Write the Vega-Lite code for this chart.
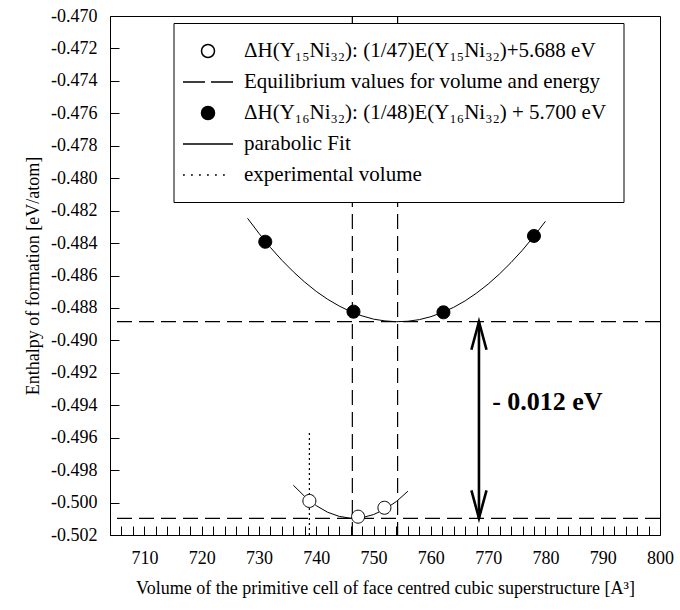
{
  "$schema": "https://vega.github.io/schema/vega-lite/v6.json",
  "width": 550,
  "height": 519,
  "autosize": {"type": "none"},
  "padding": {"left": 110, "top": 16, "right": 20, "bottom": 75},
  "background": "white",
  "config": {
    "view": {"stroke": "black", "strokeWidth": 1},
    "font": "Liberation Serif, Times New Roman, DejaVu Serif, serif"
  },
  "datasets": {
    "hlines": [{"E": -0.48885}, {"E": -0.50097}],
    "vlines": [{"V": 746.3}, {"V": 754.2}],
    "expvol": [{"V": 738.8, "E": -0.502, "E2": -0.4956}],
    "arrow": [{"V": 768.4, "E": -0.48885, "E2": -0.50097}],
    "arrowtop": [{"V": 768.4, "E": -0.48885}],
    "arrowbot": [{"V": 768.4, "E": -0.50097}],
    "label": [{"V": 770.7, "E": -0.4938, "t": "- 0.012 eV"}],
    "fit": [
      {"set": "Y16Ni32", "V": 728, "E": -0.48247},
      {"set": "Y16Ni32", "V": 730, "E": -0.48340},
      {"set": "Y16Ni32", "V": 732, "E": -0.48427},
      {"set": "Y16Ni32", "V": 734, "E": -0.48506},
      {"set": "Y16Ni32", "V": 736, "E": -0.48577},
      {"set": "Y16Ni32", "V": 738, "E": -0.48641},
      {"set": "Y16Ni32", "V": 740, "E": -0.48698},
      {"set": "Y16Ni32", "V": 742, "E": -0.48747},
      {"set": "Y16Ni32", "V": 744, "E": -0.48788},
      {"set": "Y16Ni32", "V": 746, "E": -0.48823},
      {"set": "Y16Ni32", "V": 748, "E": -0.48849},
      {"set": "Y16Ni32", "V": 750, "E": -0.48869},
      {"set": "Y16Ni32", "V": 752, "E": -0.48880},
      {"set": "Y16Ni32", "V": 754, "E": -0.48885},
      {"set": "Y16Ni32", "V": 756, "E": -0.48882},
      {"set": "Y16Ni32", "V": 758, "E": -0.48872},
      {"set": "Y16Ni32", "V": 760, "E": -0.48854},
      {"set": "Y16Ni32", "V": 762, "E": -0.48828},
      {"set": "Y16Ni32", "V": 764, "E": -0.48796},
      {"set": "Y16Ni32", "V": 766, "E": -0.48756},
      {"set": "Y16Ni32", "V": 768, "E": -0.48708},
      {"set": "Y16Ni32", "V": 770, "E": -0.48653},
      {"set": "Y16Ni32", "V": 772, "E": -0.48590},
      {"set": "Y16Ni32", "V": 774, "E": -0.48520},
      {"set": "Y16Ni32", "V": 776, "E": -0.48443},
      {"set": "Y16Ni32", "V": 778, "E": -0.48358},
      {"set": "Y16Ni32", "V": 780, "E": -0.48266},
      {"set": "Y15Ni32", "V": 736, "E": -0.49893},
      {"set": "Y15Ni32", "V": 738, "E": -0.49963},
      {"set": "Y15Ni32", "V": 740, "E": -0.50019},
      {"set": "Y15Ni32", "V": 742, "E": -0.50060},
      {"set": "Y15Ni32", "V": 744, "E": -0.50085},
      {"set": "Y15Ni32", "V": 746, "E": -0.50097},
      {"set": "Y15Ni32", "V": 748, "E": -0.50093},
      {"set": "Y15Ni32", "V": 750, "E": -0.50074},
      {"set": "Y15Ni32", "V": 752, "E": -0.50041},
      {"set": "Y15Ni32", "V": 754, "E": -0.49993},
      {"set": "Y15Ni32", "V": 756, "E": -0.49930}
    ],
    "points": [
      {"series": "ΔH(Y₁₅Ni₃₂): (1/47)E(Y₁₅Ni₃₂)+5.688 eV", "V": 738.8, "E": -0.49990},
      {"series": "ΔH(Y₁₅Ni₃₂): (1/47)E(Y₁₅Ni₃₂)+5.688 eV", "V": 747.3, "E": -0.50087},
      {"series": "ΔH(Y₁₅Ni₃₂): (1/47)E(Y₁₅Ni₃₂)+5.688 eV", "V": 751.9, "E": -0.50032},
      {"series": "ΔH(Y₁₆Ni₃₂): (1/48)E(Y₁₆Ni₃₂) + 5.700 eV", "V": 731.1, "E": -0.48392},
      {"series": "ΔH(Y₁₆Ni₃₂): (1/48)E(Y₁₆Ni₃₂) + 5.700 eV", "V": 746.5, "E": -0.48823},
      {"series": "ΔH(Y₁₆Ni₃₂): (1/48)E(Y₁₆Ni₃₂) + 5.700 eV", "V": 762.2, "E": -0.48827},
      {"series": "ΔH(Y₁₆Ni₃₂): (1/48)E(Y₁₆Ni₃₂) + 5.700 eV", "V": 778.0, "E": -0.48356}
    ]
  },
  "encoding": {
    "x": {
      "field": "V", "type": "quantitative",
      "scale": {"domain": [704, 800], "nice": false, "zero": false},
      "axis": {
        "title": "Volume of the primitive cell of face centred cubic superstructure [A³]",
        "values": [704, 706, 708, 710, 712, 714, 716, 718, 720, 722, 724, 726, 728, 730, 732, 734, 736, 738, 740, 742, 744, 746, 748, 750, 752, 754, 756, 758, 760, 762, 764, 766, 768, 770, 772, 774, 776, 778, 780, 782, 784, 786, 788, 790, 792, 794, 796, 798, 800],
        "labelExpr": "datum.value % 10 === 0 ? datum.label : ''",
        "domain": false, "grid": false, "ticks": true,
        "offset": -9, "tickSize": 9, "tickColor": "black", "tickWidth": 1, "tickOpacity": 1,
        "encode": {
          "ticks": {
            "y": {"condition": {"test": "datum.value % 10 === 0", "value": 0}, "value": 5}
          }
        },
        "labelPadding": 14, "labelOverlap": false, "labelBound": false, "labelFlush": false,
        "labelFont": "Liberation Serif, Times New Roman, DejaVu Serif, serif",
        "labelFontSize": 18, "labelColor": "black", "labelFontWeight": "normal",
        "titleFont": "Liberation Serif, Times New Roman, DejaVu Serif, serif",
        "titleFontSize": 18, "titleColor": "black", "titleFontWeight": "normal",
        "titlePadding": 12
      }
    },
    "y": {
      "field": "E", "type": "quantitative",
      "scale": {"domain": [-0.502, -0.470], "nice": false, "zero": false},
      "axis": {
        "title": "Enthalpy of formation [eV/atom]",
        "values": [-0.502, -0.5, -0.498, -0.496, -0.494, -0.492, -0.49, -0.488, -0.486, -0.484, -0.482, -0.48, -0.478, -0.476, -0.474, -0.472, -0.47],
        "labelExpr": "replace(format(datum.value, '.3f'), '−', '-')",
        "domain": false, "grid": false, "ticks": true,
        "offset": -9, "tickSize": 9, "tickColor": "black", "tickWidth": 1, "tickOpacity": 1,
        "labelPadding": 13, "labelOverlap": false, "labelBound": false, "labelFlush": false,
        "labelFont": "Liberation Serif, Times New Roman, DejaVu Serif, serif",
        "labelFontSize": 18, "labelColor": "black", "labelFontWeight": "normal",
        "titleFont": "Liberation Serif, Times New Roman, DejaVu Serif, serif",
        "titleFontSize": 18, "titleColor": "black", "titleFontWeight": "normal",
        "titlePadding": 8
      }
    }
  },
  "layer": [
    {
      "data": {"name": "hlines"},
      "mark": {"type": "rule", "color": "black", "strokeWidth": 1.2, "strokeDash": [15, 7]},
      "encoding": {"x": null}
    },
    {
      "data": {"name": "vlines"},
      "mark": {"type": "rule", "color": "black", "strokeWidth": 1.2, "strokeDash": [15, 7]},
      "encoding": {"y": null}
    },
    {
      "data": {"name": "expvol"},
      "mark": {"type": "rule", "color": "black", "strokeWidth": 1.2, "strokeDash": [2, 3]},
      "encoding": {"y2": {"field": "E2"}}
    },
    {
      "data": {"name": "fit"},
      "mark": {"type": "line", "color": "black", "strokeWidth": 1},
      "encoding": {"detail": {"field": "set", "type": "nominal"}}
    },
    {
      "data": {"name": "arrow"},
      "mark": {"type": "rule", "color": "black", "strokeWidth": 2.6},
      "encoding": {"y2": {"field": "E2"}}
    },
    {
      "data": {"name": "arrowtop"},
      "mark": {"type": "point", "shape": "M -0.27 1 L 0 0 L 0.27 1", "size": 3136, "filled": false, "stroke": "black", "strokeWidth": 2.6, "opacity": 1},
      "encoding": {}
    },
    {
      "data": {"name": "arrowbot"},
      "mark": {"type": "point", "shape": "M -0.27 -1 L 0 0 L 0.27 -1", "size": 3136, "filled": false, "stroke": "black", "strokeWidth": 2.6, "opacity": 1},
      "encoding": {}
    },
    {
      "data": {"name": "label"},
      "mark": {"type": "text", "align": "left", "baseline": "middle", "fontSize": 26, "fontWeight": "bold", "font": "Liberation Serif, Times New Roman, DejaVu Serif, serif", "color": "black"},
      "encoding": {"text": {"field": "t", "type": "nominal"}}
    },
    {
      "data": {"name": "points"},
      "mark": {"type": "point", "filled": true, "stroke": "black", "strokeWidth": 1, "size": 400, "opacity": 1, "fillOpacity": 1, "strokeOpacity": 1},
      "encoding": {
        "fill": {
          "field": "series", "type": "nominal",
          "scale": {
            "domain": ["ΔH(Y₁₅Ni₃₂): (1/47)E(Y₁₅Ni₃₂)+5.688 eV", "Equilibrium values for volume and energy", "ΔH(Y₁₆Ni₃₂): (1/48)E(Y₁₆Ni₃₂) + 5.700 eV", "parabolic Fit", "experimental volume"],
            "range": ["white", "white", "black", "white", "white"]
          },
          "legend": null
        },
        "shape": {
          "field": "series", "type": "nominal",
          "scale": {
            "domain": ["ΔH(Y₁₅Ni₃₂): (1/47)E(Y₁₅Ni₃₂)+5.688 eV", "Equilibrium values for volume and energy", "ΔH(Y₁₆Ni₃₂): (1/48)E(Y₁₆Ni₃₂) + 5.700 eV", "parabolic Fit", "experimental volume"],
            "range": [
              "M -0.65 0 A 0.65 0.65 0 1 0 0.65 0 A 0.65 0.65 0 1 0 -0.65 0 Z",
              "M -2.5 0 L -0.3 0 M 0.3 0 L 2.5 0",
              "M -0.65 0 A 0.65 0.65 0 1 0 0.65 0 A 0.65 0.65 0 1 0 -0.65 0 Z",
              "M -2.5 0 L 2.5 0",
              "M -2.5 0 L -2.32 0 M -1.7 0 L -1.52 0 M -0.9 0 L -0.72 0 M -0.1 0 L 0.08 0 M 0.7 0 L 0.88 0 M 1.5 0 L 1.68 0"
            ]
          },
          "legend": {
            "orient": "none", "legendX": 63.5, "legendY": 7,
            "title": null,
            "padding": 17,
            "strokeColor": "black", "fillColor": "white",
            "symbolSize": 400,
            "rowPadding": 10,
            "symbolOffset": 6.5,
            "labelOffset": 25,
            "labelFont": "Liberation Serif, Times New Roman, DejaVu Serif, serif", "labelFontSize": 21, "labelColor": "black", "labelLimit": 0,
            "encode": {
              "symbols": {
                "fill": {"condition": [{"test": "datum.index === 2", "value": "black"}, {"test": "datum.index === 0", "value": "white"}], "value": "transparent"},
                "stroke": {"value": "black"},
                "strokeWidth": {"value": 1},
                "strokeOpacity": {"value": 1},
                "opacity": {"value": 1}
              }
            }
          }
        }
      }
    }
  ]
}
